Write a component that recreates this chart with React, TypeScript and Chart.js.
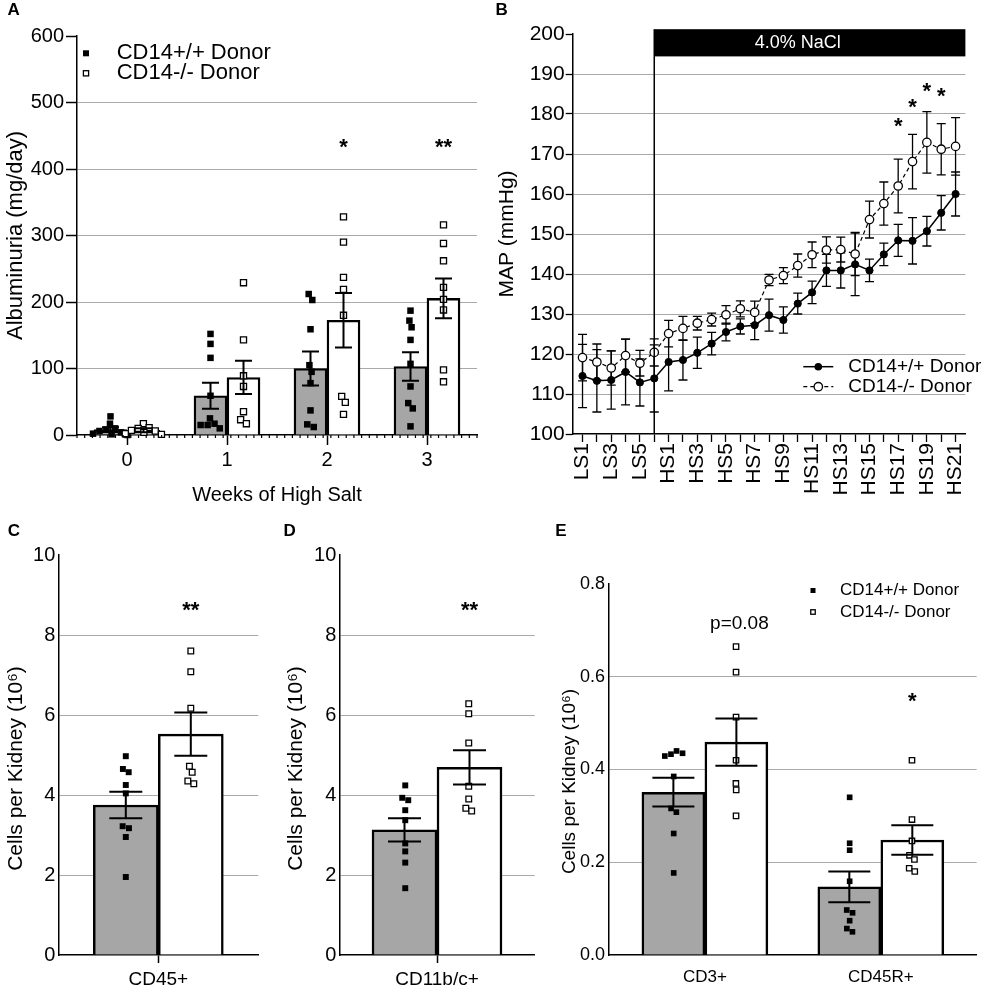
import React, { useEffect, useRef } from 'react';
import { Chart, registerables } from 'chart.js';

Chart.register(...registerables);

const FONT = "'Liberation Sans', Arial, Helvetica, sans-serif";
Chart.defaults.font.family = FONT;
Chart.defaults.color = '#000';

const GREY = '#a6a6a6';
const GRID = '#a9a9a9';
const BLACK = '#000000';

// ---------------- Panel A : albuminuria ----------------
const weekLabels = ['0', '1', '2', '3'];
const albWtMean = [8, 59, 100, 103];
const albWtSem = [3.5, 19.5, 25.5, 21.5];
const albKoMean = [7, 86.5, 172.5, 205.5];
const albKoSem = [3, 25, 41, 30];
const albWtPoints = [
  [28, 17, 10, 8, 6, 4, 2, 1, 0],
  [152, 137, 116, 59, 25, 17, 15, 15, 10],
  [212, 203, 159, 105, 95, 78, 37, 16, 12],
  [187, 172, 162, 143, 107, 73, 48, 40, 13],
];
const albKoPoints = [
  [17, 11, 10, 7, 6, 4, 2, 1],
  [229, 143, 89, 73, 35, 23, 17],
  [328, 290, 237, 219, 180, 58, 49, 31],
  [316, 288, 262, 222, 204, 188, 98, 80],
];
const albStars = ['', '', '*', '**'];
const albStarLevel = 436;

// ---------------- Panel B : MAP ----------------
const mapDays = [
  'LS1', 'LS2', 'LS3', 'LS4', 'LS5', 'LS6',
  'HS1', 'HS2', 'HS3', 'HS4', 'HS5', 'HS6', 'HS7', 'HS8', 'HS9', 'HS10', 'HS11',
  'HS12', 'HS13', 'HS14', 'HS15', 'HS16', 'HS17', 'HS18', 'HS19', 'HS20', 'HS21',
];
const mapWt = [114.5, 113.3, 113.5, 115.5, 112.9, 113.9, 118.0, 118.5, 120.3, 122.6, 125.5, 126.9, 127.2, 129.7, 128.5, 132.6, 135.4, 140.9, 140.9, 142.4, 140.9, 144.9, 148.4, 148.3, 150.7, 155.3, 160.0];
const mapWtSem = [7.9, 7.8, 7.3, 8.2, 5.9, 8.4, 7.2, 5.0, 3.9, 2.8, 2.2, 1.9, 3.6, 4.0, 3.3, 2.6, 2.8, 4.0, 4.4, 7.8, 2.8, 2.8, 4.0, 5.8, 3.7, 4.3, 5.5];
const mapKo = [119.1, 118.0, 116.5, 119.6, 117.7, 120.4, 125.1, 126.4, 127.7, 128.6, 129.8, 131.3, 130.4, 138.5, 139.6, 142.1, 144.8, 146.0, 146.1, 145.0, 153.6, 157.6, 162.0, 168.1, 172.9, 171.2, 171.9];
const mapKoSem = [5.8, 4.5, 4.3, 4.1, 3.2, 3.4, 3.3, 3.0, 1.7, 1.6, 2.3, 2.0, 2.8, 1.4, 2.0, 2.9, 3.2, 3.3, 3.1, 5.4, 4.6, 5.4, 6.7, 6.8, 7.7, 6.4, 7.2];
const mapStarDays = ['HS17', 'HS18', 'HS19', 'HS20'];
const mapStarLevels = [177.6, 182.3, 186.2, 185.1];
const naclStartDay = 'LS6';
const naclTop = 201.2;
const naclBottom = 194.4;

// ---------------- Panel C : CD45+ ----------------
const cd45Cats = ['CD45+'];
const cd45WtMean = [3.75];
const cd45WtSem = [0.33];
const cd45KoMean = [5.52];
const cd45KoSem = [0.54];
const cd45WtPoints = [[4.97, 4.65, 4.57, 4.25, 4.04, 3.22, 3.17, 2.95, 1.95]];
const cd45KoPoints = [[7.6, 7.08, 6.17, 4.72, 4.57, 4.35, 4.28]];

// ---------------- Panel D : CD11b/c+ ----------------
const cd11Cats = ['CD11b/c+'];
const cd11WtMean = [3.13];
const cd11WtSem = [0.29];
const cd11KoMean = [4.69];
const cd11KoSem = [0.43];
const cd11WtPoints = [[4.24, 3.93, 3.87, 3.62, 3.37, 2.79, 2.59, 2.31, 1.67]];
const cd11KoPoints = [[6.28, 6.03, 5.3, 4.22, 3.9, 3.67, 3.6]];

// ---------------- Panel E : CD3+ / CD45R+ ----------------
const lymCats = ['CD3+', 'CD45R+'];
const lymWtMean = [0.351, 0.147];
const lymWtSem = [0.031, 0.033];
const lymKoMean = [0.459, 0.248];
const lymKoSem = [0.051, 0.032];
const lymWtPoints = [
  [0.44, 0.435, 0.433, 0.429, 0.385, 0.316, 0.308, 0.262, 0.177],
  [0.34, 0.241, 0.226, 0.159, 0.097, 0.091, 0.074, 0.057, 0.05],
];
const lymKoPoints = [
  [0.665, 0.61, 0.513, 0.42, 0.37, 0.356, 0.3],
  [0.42, 0.292, 0.246, 0.215, 0.206, 0.187, 0.18],
];
const cellStars = ['**'];
const cellStarLevel = 8.68;
const lymPText = 'p=0.08';
const lymPLevel = 0.715;
const lymStar = '*';
const lymStarLevel = 0.5535;

const legendWt = 'CD14+/+ Donor';
const legendKo = 'CD14-/- Donor';

// ---------------- helpers ----------------
function swarm(values: number[], pxPerY: number, size: number): number[] {
  const n = values.length;
  const order = values.map((_, i) => i).sort((a, b) => values[b] - values[a]);
  const px: number[] = new Array(n).fill(0);
  const placed: number[] = [];
  for (const i of order) {
    const y = values[i] * pxPerY;
    const cands: number[] = [0];
    for (const j of placed) {
      const dy = Math.abs(values[j] * pxPerY - y);
      if (dy < size) {
        const dx = Math.sqrt(size * size - dy * dy);
        cands.push(px[j] + dx, px[j] - dx);
      }
    }
    cands.sort((a, b) => Math.abs(a) - Math.abs(b));
    let best = NaN;
    for (const c of cands) {
      const ok = placed.every((j) => Math.hypot(px[j] - c, values[j] * pxPerY - y) >= size - 1e-6);
      if (ok) { best = c; break; }
    }
    if (isNaN(best)) best = Math.max(...cands.map(Math.abs)) + size;
    px[i] = best;
    placed.push(i);
  }
  let start = 0;
  for (let k = 1; k <= n; k++) {
    if (k === n || (values[order[k - 1]] - values[order[k]]) * pxPerY >= size) {
      const grp = order.slice(start, k);
      const m = grp.reduce((s, j) => s + px[j], 0) / grp.length;
      grp.forEach((j) => { px[j] -= m; });
      start = k;
    }
  }
  return px;
}

function txt(ctx: any, s: string, x: number, y: number, size: number, o: any = {}) {
  ctx.save();
  ctx.font = `${o.bold ? 'bold ' : ''}${size}px ${FONT}`;
  ctx.fillStyle = o.color || BLACK;
  ctx.textAlign = o.align || 'left';
  ctx.textBaseline = 'middle';
  ctx.fillText(s, x, y);
  ctx.restore();
}

function star(ctx: any, s: string, x: number, yc: number, size: number) {
  ctx.save();
  ctx.font = `bold ${size}px ${FONT}`;
  ctx.fillStyle = BLACK;
  ctx.textAlign = 'center';
  ctx.textBaseline = 'alphabetic';
  ctx.fillText(s, x, yc + size * 0.42);
  ctx.restore();
}

function letter(ctx: any, s: string, x: number, y: number) {
  txt(ctx, s, x, y, 17, { bold: true, align: 'center' });
}

function square(ctx: any, x: number, y: number, side: number, filled: boolean) {
  ctx.save();
  if (filled) {
    ctx.fillStyle = BLACK;
    ctx.fillRect(x - side / 2, y - side / 2, side, side);
  } else {
    ctx.fillStyle = '#fff';
    ctx.strokeStyle = BLACK;
    ctx.lineWidth = 1.3;
    ctx.fillRect(x - side / 2, y - side / 2, side, side);
    ctx.strokeRect(x - side / 2 + 0.65, y - side / 2 + 0.65, side - 1.3, side - 1.3);
  }
  ctx.restore();
}

function vTitle(ctx: any, s: string, cx: number, cy: number, size: number) {
  ctx.save();
  ctx.translate(cx, cy);
  ctx.rotate(-Math.PI / 2);
  ctx.font = `${size}px ${FONT}`;
  ctx.fillStyle = BLACK;
  ctx.textAlign = 'center';
  ctx.textBaseline = 'middle';
  ctx.fillText(s, 0, 0);
  ctx.restore();
}

function drawErr(chart: any, o: any) {
  const ctx = chart.ctx;
  const ys = chart.scales.y;
  chart.data.datasets.forEach((ds: any, di: number) => {
    if (!ds.errors) return;
    const meta = chart.getDatasetMeta(di);
    meta.data.forEach((el: any, i: number) => {
      const v = ds.data[i].y;
      const e = ds.errors[i];
      const x = el.x;
      const yHi = ys.getPixelForValue(v + e);
      const yLo = ys.getPixelForValue(v - e);
      ctx.save();
      ctx.strokeStyle = BLACK;
      ctx.lineWidth = o.lineW;
      ctx.beginPath();
      ctx.moveTo(x, yLo); ctx.lineTo(x, yHi);
      ctx.moveTo(x - o.capW / 2, yHi); ctx.lineTo(x + o.capW / 2, yHi);
      ctx.moveTo(x - o.capW / 2, yLo); ctx.lineTo(x + o.capW / 2, yLo);
      ctx.stroke();
      ctx.restore();
    });
  });
}

const errorBarsPlugin = {
  id: 'errorBars',
  beforeDatasetsDraw(chart: any, _a: any, o: any) { if (o.phase === 'before') drawErr(chart, o); },
  afterDatasetsDraw(chart: any, _a: any, o: any) { if (o.phase !== 'before') drawErr(chart, o); },
};

function innerGrid(min: number, max: number) {
  return (c: any) => {
    const v = c.tick ? c.tick.value : undefined;
    if (v === undefined || v <= min + 1e-9 || v >= max - 1e-9) return 'rgba(0,0,0,0)';
    return GRID;
  };
}

// ---------------- generic bar panel ----------------
function buildBarConfig(p: any) {
  const pxX = (p.area.r - p.area.l) / (p.xMax - p.xMin);
  const pxY = (p.area.b - p.area.t) / p.yMax;
  const half = p.barW / 2 / pxX;
  const pts = (groups: number[][], side: number) =>
    groups.flatMap((vals, i) => {
      const offs = swarm(vals, pxY, p.swarmSize);
      return vals.map((v, k) => ({ x: i + side * half + offs[k] / pxX, y: v }));
    });
  return {
    type: 'bar',
    data: {
      datasets: [
        {
          type: 'bar', label: legendWt,
          data: p.wtMean.map((v: number, i: number) => ({ x: i, y: v })),
          errors: p.wtSem,
          backgroundColor: GREY, borderColor: BLACK, borderWidth: p.barBorder,
          barThickness: p.barW, grouped: true, order: 2,
        },
        {
          type: 'bar', label: legendKo,
          data: p.koMean.map((v: number, i: number) => ({ x: i, y: v })),
          errors: p.koSem,
          backgroundColor: '#ffffff', borderColor: BLACK, borderWidth: p.barBorder,
          barThickness: p.barW, grouped: true, order: 2,
        },
        {
          type: 'scatter', label: legendWt + ' points', data: pts(p.wtPts, -1),
          pointStyle: 'rect', pointRadius: p.ptR, backgroundColor: BLACK, pointBackgroundColor: BLACK,
          borderColor: BLACK, pointBorderColor: BLACK, pointBorderWidth: 0, order: 1, clip: false,
        },
        {
          type: 'scatter', label: legendKo + ' points', data: pts(p.koPts, 1),
          pointStyle: 'rect', pointRadius: p.koR, backgroundColor: '#fff', pointBackgroundColor: '#fff',
          borderColor: BLACK, pointBorderColor: BLACK, pointBorderWidth: 1.3, order: 0, clip: false,
        },
      ],
    },
    options: {
      responsive: false,
      animation: false,
      events: [],
      layout: { padding: { left: 0, top: p.area.t, right: p.w - p.area.r, bottom: 0 } },
      plugins: {
        legend: { display: false },
        tooltip: { enabled: false },
        errorBars: { capW: p.capW, lineW: p.errW, phase: 'after' },
      },
      scales: {
        x: {
          type: 'linear', min: p.xMin, max: p.xMax, offset: false,
          afterBuildTicks: (s: any) => { s.ticks = p.cats.map((_: any, i: number) => ({ value: i })); },
          afterFit: (s: any) => { s.height = p.h - p.area.b; },
          ticks: {
            autoSkip: false, maxRotation: 0, minRotation: 0, padding: p.xPad, color: BLACK,
            font: { size: p.xFont },
            callback: (v: any) => p.cats[Math.round(v)] ?? '',
          },
          grid: {
            drawOnChartArea: false, drawTicks: p.xTickLen > 0, tickLength: p.xTickLen,
            tickColor: BLACK, tickWidth: 1.5, offset: false,
          },
          border: { display: true, color: BLACK, width: 1.5 },
          title: p.xTitle
            ? { display: true, text: p.xTitle.text, color: BLACK, font: { size: p.xTitle.size, lineHeight: 1.2 }, padding: { top: 0, bottom: p.xTitle.pad } }
            : { display: false },
        },
        y: {
          type: 'linear', min: 0, max: p.yMax,
          afterFit: (s: any) => { s.width = p.area.l; },
          ticks: {
            stepSize: p.yStep, padding: p.yPad, color: BLACK, font: { size: p.yFont },
            callback: (v: any) => Number(v).toFixed(p.yDec),
          },
          grid: {
            color: innerGrid(0, p.yMax), lineWidth: 1,
            drawTicks: p.yTickLen > 0, tickLength: p.yTickLen, tickColor: BLACK, tickWidth: 1.5,
          },
          border: { display: true, color: BLACK, width: 1.5 },
          title: p.yTitle
            ? { display: true, text: p.yTitle.text, color: BLACK, font: { size: p.yTitle.size, lineHeight: 1.2 }, padding: { top: p.yTitle.pad, bottom: 0 } }
            : { display: false },
        },
      },
    },
    plugins: [errorBarsPlugin, { id: 'deco', afterDraw: (chart: any) => p.decorate(chart) }],
  };
}

function koCenter(chart: any, i: number) {
  return chart.getDatasetMeta(1).data[i].x;
}

function buildA() {
  return buildBarConfig({
    w: 490, h: 515, area: { l: 77, t: 36, r: 477, b: 435 },
    cats: weekLabels, xMin: -0.5, xMax: 3.5, yMax: 600, yStep: 100, yDec: 0,
    wtMean: albWtMean, wtSem: albWtSem, koMean: albKoMean, koSem: albKoSem,
    wtPts: albWtPoints, koPts: albKoPoints,
    barW: 33, barBorder: 2.4, capW: 17, errW: 2, ptR: 4.6, koR: 4.3, swarmSize: 7,
    yFont: 20, yTickLen: 11, yPad: 2, xFont: 20, xTickLen: 10, xPad: 3,
    yTitle: { text: 'Albuminuria (mg/day)', size: 22, pad: 2.5 },
    xTitle: { text: 'Weeks of High Salt', size: 20, pad: 8 },
    decorate: (chart: any) => {
      const ctx = chart.ctx;
      const xs = chart.scales.x;
      const ys = chart.scales.y;
      const ca = chart.chartArea;
      letter(ctx, 'A', 13.7, 10);
      ctx.save();
      ctx.strokeStyle = BLACK;
      ctx.lineWidth = 1.2;
      ctx.beginPath();
      for (let k = 0; k <= 52; k++) {
        const x = xs.getPixelForValue(-0.5 + k / 13);
        ctx.moveTo(x, ca.bottom);
        ctx.lineTo(x, ca.bottom + 3);
      }
      ctx.stroke();
      ctx.restore();
      square(ctx, 86, 53.3, 6, true);
      square(ctx, 86, 73.3, 6.5, false);
      txt(ctx, legendWt, 116.7, 53.3, 22);
      txt(ctx, legendKo, 116.7, 73.3, 22);
      albStars.forEach((s, i) => { if (s) star(ctx, s, koCenter(chart, i), ys.getPixelForValue(albStarLevel), 22); });
    },
  });
}

function cellPanel(cats: string[], wm: number[], ws: number[], km: number[], ks: number[], wp: number[][], kp: number[][], w: number, areaL: number, lbl: string, lblX: number, titleX: number) {
  return buildBarConfig({
    w, h: 487, area: { l: areaL, t: 55, r: areaL + 200, b: 455 },
    cats, xMin: -1, xMax: 1, yMax: 10, yStep: 2, yDec: 0,
    wtMean: wm, wtSem: ws, koMean: km, koSem: ks, wtPts: wp, koPts: kp,
    barW: 65, barBorder: 2.5, capW: 33, errW: 2, ptR: 4.2, koR: 4.0, swarmSize: 6.6,
    yFont: 20, yTickLen: 0, yPad: 3, xFont: 19, xTickLen: 8, xPad: 5.5,
    decorate: (chart: any) => {
      const ctx = chart.ctx;
      const ys = chart.scales.y;
      letter(ctx, lbl, lblX, 31.5);
      vTitle(ctx, 'Cells per Kidney (10⁶)', titleX, 268.5, 21);
      cellStars.forEach((s, i) => { if (s) star(ctx, s, koCenter(chart, i), ys.getPixelForValue(cellStarLevel), 22); });
    },
  });
}

function buildC() {
  return cellPanel(cd45Cats, cd45WtMean, cd45WtSem, cd45KoMean, cd45KoSem, cd45WtPoints, cd45KoPoints, 280, 58.3, 'C', 14, 16.5);
}

function buildD() {
  return cellPanel(cd11Cats, cd11WtMean, cd11WtSem, cd11KoMean, cd11KoSem, cd11WtPoints, cd11KoPoints, 260, 59.3, 'D', 9.7, 16.5);
}

function buildE() {
  return buildBarConfig({
    w: 442, h: 487, area: { l: 69, t: 84, r: 440.7, b: 455 },
    cats: lymCats, xMin: -0.545, xMax: 1.545, yMax: 0.8, yStep: 0.2, yDec: 1,
    wtMean: lymWtMean, wtSem: lymWtSem, koMean: lymKoMean, koSem: lymKoSem,
    wtPts: lymWtPoints, koPts: lymKoPoints,
    barW: 63, barBorder: 2.5, capW: 42, errW: 2, ptR: 4.0, koR: 3.8, swarmSize: 6.5,
    yFont: 18, yTickLen: 0, yPad: 4, xFont: 17, xTickLen: 0, xPad: 12,
    decorate: (chart: any) => {
      const ctx = chart.ctx;
      const ys = chart.scales.y;
      letter(ctx, 'E', 21, 31.5);
      vTitle(ctx, 'Cells per Kidney (10⁶)', 30, 281.5, 19);
      square(ctx, 273, 90.5, 5, true);
      square(ctx, 273, 112, 5.8, false);
      txt(ctx, legendWt, 300, 90.5, 17);
      txt(ctx, legendKo, 300, 112, 17);
      txt(ctx, lymPText, koCenter(chart, 0) + 3, ys.getPixelForValue(lymPLevel), 19, { align: 'center' });
      star(ctx, lymStar, koCenter(chart, 1), ys.getPixelForValue(lymStarLevel), 22);
    },
  });
}

// ---------------- Panel B builder ----------------
function buildB() {
  const W = 492;
  const H = 500;
  const area = { l: 82.7, t: 34, r: 482.7, b: 434 };
  const edge = 10 / ((area.r - area.l - 20) / (mapDays.length - 1));
  return {
    type: 'line',
    data: {
      datasets: [
        {
          label: legendWt, data: mapWt.map((v, i) => ({ x: i, y: v })), errors: mapWtSem,
          borderColor: BLACK, borderWidth: 1.5, tension: 0, fill: false,
          pointRadius: 3.6, pointBackgroundColor: BLACK, pointBorderColor: BLACK, pointBorderWidth: 1,
        },
        {
          label: legendKo, data: mapKo.map((v, i) => ({ x: i, y: v })), errors: mapKoSem,
          borderColor: BLACK, borderWidth: 1.2, borderDash: [4, 3], tension: 0, fill: false,
          pointRadius: 4.2, pointBackgroundColor: '#ffffff', pointBorderColor: BLACK, pointBorderWidth: 1.3,
        },
      ],
    },
    options: {
      responsive: false,
      animation: false,
      events: [],
      layout: { padding: { left: 0, top: area.t, right: W - area.r, bottom: 0 } },
      plugins: {
        legend: { display: false },
        tooltip: { enabled: false },
        errorBars: { capW: 9, lineW: 1.3, phase: 'before' },
      },
      scales: {
        x: {
          type: 'linear', min: -edge, max: mapDays.length - 1 + edge, offset: false,
          afterBuildTicks: (s: any) => { s.ticks = mapDays.map((_, i) => ({ value: i })); },
          afterFit: (s: any) => { s.height = H - area.b; },
          ticks: {
            autoSkip: false, minRotation: 90, maxRotation: 90, padding: 1, color: BLACK,
            font: { size: 21 },
            callback: (v: any) => {
              const d = mapDays[Math.round(v)];
              return d && parseInt(d.slice(2), 10) % 2 === 1 ? d : '';
            },
          },
          grid: { drawOnChartArea: false, drawTicks: true, tickLength: 8, tickColor: BLACK, tickWidth: 1.3, offset: false },
          border: { display: true, color: BLACK, width: 1.5 },
        },
        y: {
          type: 'linear', min: 100, max: 200,
          afterFit: (s: any) => { s.width = area.l; },
          ticks: { stepSize: 10, padding: 1, color: BLACK, font: { size: 21 } },
          grid: { color: innerGrid(100, 200), lineWidth: 1, drawTicks: true, tickLength: 7, tickColor: BLACK, tickWidth: 1.3 },
          border: { display: true, color: BLACK, width: 1.5 },
          title: { display: true, text: 'MAP (mmHg)', color: BLACK, font: { size: 21, lineHeight: 1.2 }, padding: { top: 5, bottom: 0 } },
        },
      },
    },
    plugins: [
      errorBarsPlugin,
      {
        id: 'decoB',
        afterDraw: (chart: any) => {
          const ctx = chart.ctx;
          const xs = chart.scales.x;
          const ys = chart.scales.y;
          const ca = chart.chartArea;
          letter(ctx, 'B', 11.7, 10.5);
          const x0 = xs.getPixelForValue(mapDays.indexOf(naclStartDay));
          const x1 = ca.right;
          const yT = ys.getPixelForValue(naclTop);
          const yB = ys.getPixelForValue(naclBottom);
          ctx.save();
          ctx.fillStyle = BLACK;
          ctx.fillRect(x0, yT, x1 - x0, yB - yT);
          ctx.strokeStyle = BLACK;
          ctx.lineWidth = 1.5;
          ctx.beginPath();
          ctx.moveTo(x0, yT);
          ctx.lineTo(x0, ca.bottom);
          ctx.stroke();
          ctx.restore();
          txt(ctx, '4.0% NaCl', x0 + (x1 - x0) * 0.461, (yT + yB) / 2 + 0.5, 18, { align: 'center', color: '#ffffff' });
          mapStarDays.forEach((d, k) => {
            star(ctx, '*', xs.getPixelForValue(mapDays.indexOf(d)), ys.getPixelForValue(mapStarLevels[k]), 22);
          });
          // legend
          ctx.save();
          ctx.strokeStyle = BLACK;
          ctx.lineWidth = 1.5;
          ctx.beginPath();
          ctx.moveTo(313.3, 366.7);
          ctx.lineTo(343.3, 366.7);
          ctx.stroke();
          ctx.fillStyle = BLACK;
          ctx.beginPath();
          ctx.arc(328.3, 366.7, 3.8, 0, Math.PI * 2);
          ctx.fill();
          ctx.lineWidth = 1.2;
          ctx.setLineDash([4, 3]);
          ctx.beginPath();
          ctx.moveTo(313.3, 386.7);
          ctx.lineTo(343.3, 386.7);
          ctx.stroke();
          ctx.setLineDash([]);
          ctx.fillStyle = '#ffffff';
          ctx.lineWidth = 1.3;
          ctx.beginPath();
          ctx.arc(328.3, 386.7, 4.2, 0, Math.PI * 2);
          ctx.fill();
          ctx.stroke();
          ctx.restore();
          txt(ctx, legendWt, 358.3, 366.7, 19);
          txt(ctx, legendKo, 358.3, 386.7, 19);
        },
      },
    ],
  };
}

// ---------------- React ----------------
function ChartBox({ box, build }: { box: { x: number; y: number; w: number; h: number }; build: () => any }) {
  const ref = useRef<HTMLCanvasElement | null>(null);
  useEffect(() => {
    if (!ref.current) return undefined;
    const chart = new Chart(ref.current, build());
    return () => chart.destroy();
  }, []);
  return (
    <canvas
      ref={ref}
      width={box.w}
      height={box.h}
      style={{ position: 'absolute', left: box.x, top: box.y, width: box.w, height: box.h }}
    />
  );
}

export default function App() {
  return (
    <div style={{ position: 'absolute', left: 0, top: 0, width: 982, height: 987, background: '#ffffff', overflow: 'hidden' }}>
      <ChartBox box={{ x: 0, y: 0, w: 490, h: 515 }} build={buildA} />
      <ChartBox box={{ x: 490, y: 0, w: 492, h: 500 }} build={buildB} />
      <ChartBox box={{ x: 0, y: 500, w: 280, h: 487 }} build={buildC} />
      <ChartBox box={{ x: 280, y: 500, w: 260, h: 487 }} build={buildD} />
      <ChartBox box={{ x: 540, y: 500, w: 442, h: 487 }} build={buildE} />
    </div>
  );
}
